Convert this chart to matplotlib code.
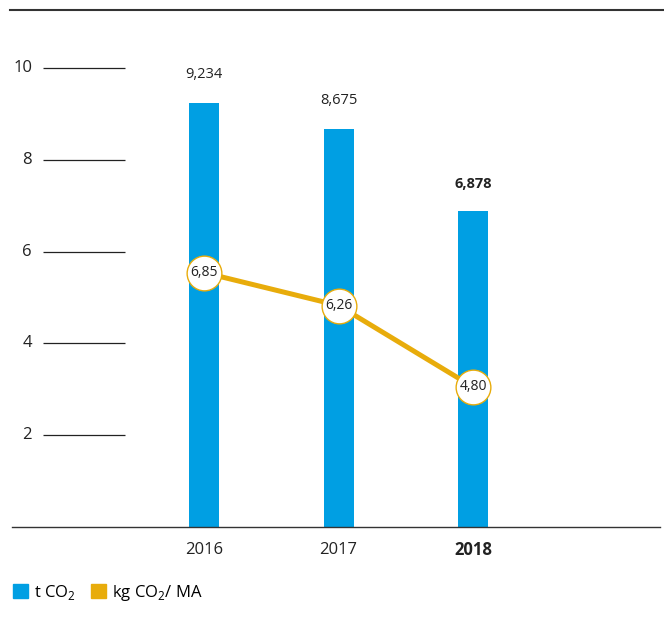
import matplotlib.pyplot as plt
from matplotlib.patches import Patch

plt.rcParams['font.family'] = ['Open Sans', 'DejaVu Sans']
plt.rcParams['mathtext.fontset'] = 'custom'
plt.rcParams['mathtext.rm'] = 'Open Sans'

years = ['2016', '2017', '2018']
t_co2 = [9.234, 8.675, 6.878]
kg_per_ma = [6.85, 6.26, 4.80]
y_ticks = [2, 4, 6, 8, 10]

blue = '#009FE3'
gold = '#E8AC0B'

def de(v, d):
    return f"{v:.{d}f}".replace('.', ',')

W, H = 664, 633
fig = plt.figure(figsize=(W / 100, H / 100), dpi=100)
ax = fig.add_axes([12 / W, 106 / H, 648 / W, 517 / H])
ax.set_ylim(0, 11.26)
ax.set_xlim(-1.428, 3.39)

x = range(len(years))
ax.bar(x, t_co2, width=0.223, color=blue, zorder=2)
for i, v in enumerate(t_co2):
    ax.text(i, v + 0.45, de(v, 3), ha='center', va='bottom', fontsize=10.5,
            fontweight='bold' if i == 2 else 'normal', color='#222222')

# short tick lines with labels on the left
ax.hlines(y_ticks, -1.197, -0.587, color='#222222', lw=0.9)
for t in y_ticks:
    ax.text(-1.279, t, str(t), ha='right', va='center', fontsize=12, color='#222222')

for i, yr in enumerate(years):
    ax.text(i, -0.5, yr, ha='center', va='center', fontsize=12, color='#222222',
            fontweight='bold' if i == 2 else 'normal')

ax.set_xticks([])
ax.set_yticks([])
for s in ['left', 'right']:
    ax.spines[s].set_visible(False)
ax.spines['bottom'].set_color('#333333')
ax.spines['bottom'].set_linewidth(1.0)
ax.spines['top'].set_visible(False)
fig.add_artist(plt.Line2D([10 / W, 1.0], [623 / H, 623 / H], color='#333333', lw=1.5))

# per-employee values on a hidden secondary scale
ax2 = ax.twinx()
ax2.set_ylim(2.29, 11.557)
ax2.axis('off')
ax2.plot(x, kg_per_ma, color=gold, lw=3.6, zorder=3,
         marker='o', ms=25, mfc='white', mec=gold, mew=1.0)
for i, v in enumerate(kg_per_ma):
    ax2.text(i, v, de(v, 2), ha='center', va='center', fontsize=10, color='#222222', zorder=4)

handles = [Patch(color=blue, label='t CO$_2$'), Patch(color=gold, label='kg CO$_2$/ MA')]
fig.legend(handles=handles, loc='center left', bbox_to_anchor=(-2 / W, 40 / H), ncol=2,
           frameon=False, fontsize=12, handlelength=0.9, handleheight=0.9,
           handletextpad=0.35, columnspacing=0.9)

fig.savefig('out.png', dpi=100)
